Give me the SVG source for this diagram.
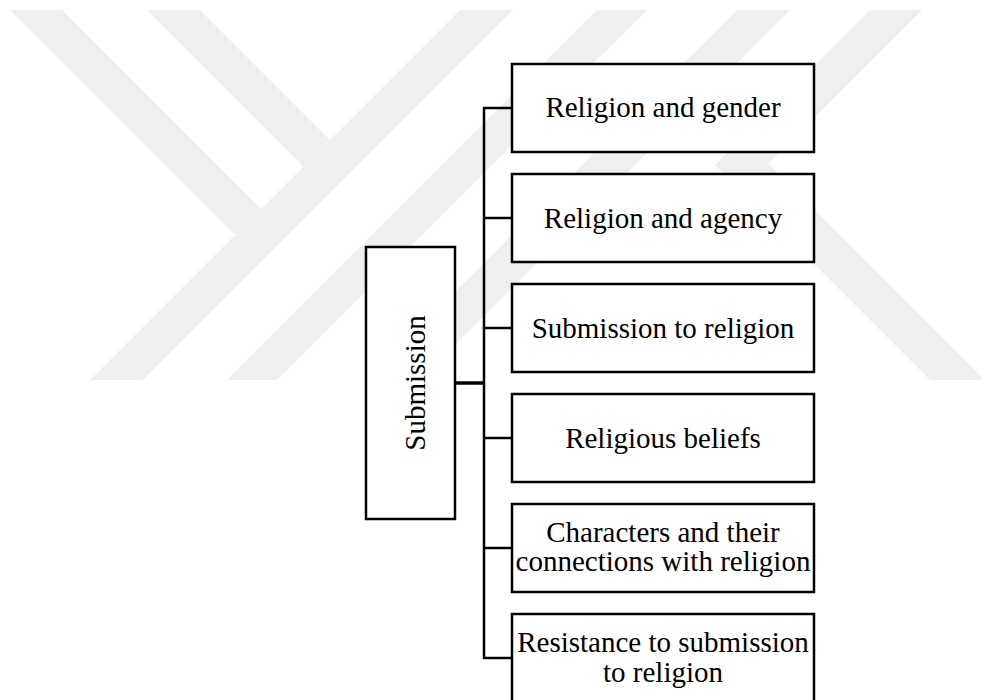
<svg xmlns="http://www.w3.org/2000/svg" width="981" height="700" viewBox="0 0 981 700">
<style>
.wm{fill:#efefef;stroke:none}
.box{fill:#ffffff;stroke:#000000;stroke-width:2.5}
.lbl{font-family:"Liberation Serif","Times New Roman",serif;font-size:29px;fill:#000000;text-anchor:middle}
.con{fill:none;stroke:#000000;stroke-width:2.5}
.con-main{fill:none;stroke:#000000;stroke-width:3.5}
</style>
<defs>
<clipPath id="wmclip"><rect x="0" y="10" width="981" height="370"/></clipPath>
</defs>
<rect x="0" y="0" width="981" height="700" fill="#ffffff"/>
<g id="watermark" clip-path="url(#wmclip)">
<polygon class="wm" points="10,10 62,10 261,209 235,235"/>
<polygon class="wm" points="147,10 200,10 330,140 303.5,166.5"/>
<polygon class="wm" points="460,10 513,10 143,380 90,380"/>
<polygon class="wm" points="597,10 647,10 277,380 227,380"/>
<polygon class="wm" points="737,10 790,10 420,380 367,380"/>
<polygon class="wm" points="870,10 922,10 768.5,163.5 985,380 930,380 715,165"/>
</g>
<g id="connectors">
<line class="con-main" x1="455" y1="383" x2="484" y2="383"/>
<line class="con" x1="484" y1="107" x2="484" y2="659"/>
<line class="con" x1="483" y1="108" x2="512" y2="108"/>
<line class="con" x1="483" y1="218" x2="512" y2="218"/>
<line class="con" x1="483" y1="328" x2="512" y2="328"/>
<line class="con" x1="483" y1="438" x2="512" y2="438"/>
<line class="con" x1="483" y1="548" x2="512" y2="548"/>
<line class="con" x1="483" y1="658" x2="512" y2="658"/>
</g>
<g id="node-submission">
<rect class="box" x="366" y="247" width="89" height="272"/>
<text class="lbl" transform="translate(425,383) rotate(-90)" x="0" y="0">Submission</text>
</g>
<g id="node-gender">
<rect class="box" x="512" y="64" width="302" height="88"/>
<text class="lbl" x="663" y="117">Religion and gender</text>
</g>
<g id="node-agency">
<rect class="box" x="512" y="174" width="302" height="88"/>
<text class="lbl" x="663" y="228">Religion and agency</text>
</g>
<g id="node-submission-religion">
<rect class="box" x="512" y="284" width="302" height="88"/>
<text class="lbl" x="663" y="338">Submission to religion</text>
</g>
<g id="node-beliefs">
<rect class="box" x="512" y="394" width="302" height="88"/>
<text class="lbl" x="663" y="448">Religious beliefs</text>
</g>
<g id="node-characters">
<rect class="box" x="512" y="504" width="302" height="88"/>
<text class="lbl" x="663" y="542">Characters and their</text>
<text class="lbl" x="663" y="571">connections with religion</text>
</g>
<g id="node-resistance">
<rect class="box" x="512" y="614" width="302" height="88"/>
<text class="lbl" x="663" y="652">Resistance to submission</text>
<text class="lbl" x="663" y="682">to religion</text>
</g>
</svg>
